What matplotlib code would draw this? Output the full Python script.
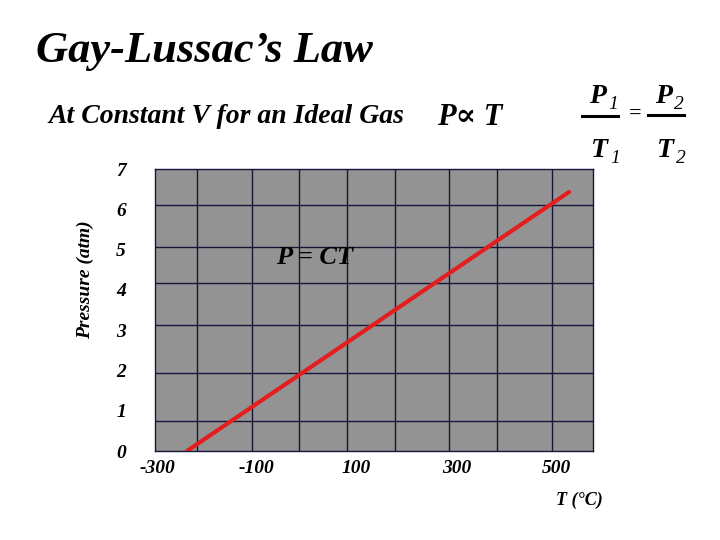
import matplotlib
matplotlib.use('Agg')
import matplotlib.pyplot as plt
from matplotlib.lines import Line2D

# data
temp_c = [-240, 526]
pressure = [0.0, 6.43]

x_ticks = [-300, -100, 100, 300, 500]
y_ticks = [0, 1, 2, 3, 4, 5, 6, 7]

# the hand drawn grid of the slide is not evenly spaced
v_grid = [-220, -110, -15, 81, 177, 285, 381, 492]
h_grid = [0.74, 1.94, 3.13, 4.17, 5.06, 6.11]

SERIF = 'Liberation Serif'
GRID = '#16163a'

plt.rcParams['font.family'] = [SERIF, 'DejaVu Serif']
plt.rcParams['axes.unicode_minus'] = False

fig = plt.figure(figsize=(7.2, 5.4), dpi=100)
ax = fig.add_axes([0.2153, 0.1648, 0.6083, 0.5222])
ax.set_facecolor('#939393')

for x in v_grid:
    ax.axvline(x, color=GRID, lw=1.0, zorder=1)
for y in h_grid:
    ax.axhline(y, color=GRID, lw=1.0, zorder=1)
for s in ax.spines.values():
    s.set_color(GRID)
    s.set_linewidth(1.0)

ax.plot(temp_c, pressure, color='#e41e1e', lw=3.0, solid_capstyle='round', zorder=3)

ax.set_xlim(-304, 574)
ax.set_ylim(0, 7)
ax.set_xticks(x_ticks)
ax.set_yticks(y_ticks)
ax.tick_params(length=0)
ax.tick_params(axis='x', pad=6.5)
ax.tick_params(axis='y', pad=21)
for lab in ax.get_xticklabels() + ax.get_yticklabels():
    lab.set_fontstyle('italic')
    lab.set_fontweight('bold')
    lab.set_fontsize(14)

ax.text(15, 4.8, 'P = CT', fontsize=19, fontweight='bold', fontstyle='italic',
        ha='center', va='center', zorder=4)

fig.text(85 / 720, 1 - 280 / 540, 'Pressure (atm)', rotation=90, fontsize=14,
         fontweight='bold', fontstyle='italic', ha='center', va='center')
fig.text(579 / 720, 1 - 500 / 540, 'T (°C)', fontsize=13, fontweight='bold',
         fontstyle='italic', ha='center', va='center')

fig.text(36 / 720, 1 - 62 / 540, 'Gay-Lussac\u2019s Law', fontsize=32, fontweight='bold',
         fontstyle='italic', ha='left', va='baseline')
fig.text(48 / 720, 1 - 123 / 540, 'At Constant V for an Ideal Gas', fontsize=20,
         fontweight='bold', fontstyle='italic', ha='left', va='baseline')
fig.text(437 / 720, 1 - 125 / 540, 'P\u221d T', fontsize=22, fontweight='bold',
         fontstyle='italic', ha='left', va='baseline')

# P1/T1 = P2/T2
def sym(x, y, letter, sub):
    fig.text(x / 720, 1 - y / 540, letter, fontsize=20, fontweight='bold',
             fontstyle='italic', ha='left', va='baseline')
    fig.text((x + 19) / 720, 1 - (y + 6) / 540, sub, fontsize=14,
             fontstyle='italic', ha='left', va='baseline')

sym(589, 103, 'P', '1')
sym(655, 103, 'P', '2')
sym(591, 157, 'T', '1')
sym(657, 157, 'T', '2')
fig.add_artist(Line2D([582 / 720, 618 / 720], [1 - 116 / 540] * 2, color='black', lw=2.2))
fig.add_artist(Line2D([648 / 720, 684 / 720], [1 - 115 / 540] * 2, color='black', lw=2.2))
fig.text(635 / 720, 1 - 114 / 540, '=', fontsize=16, fontweight='bold',
         ha='center', va='center')

fig.savefig('out.png', dpi=100, facecolor='white')
